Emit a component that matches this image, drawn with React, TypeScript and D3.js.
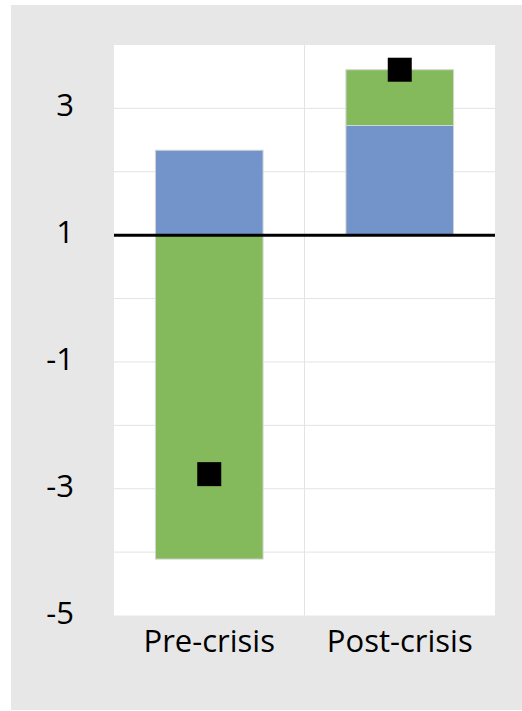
import React from "react";
import * as d3 from "d3";

// Categories and stacked components (drawn from a baseline of 1)
const categories = ["Pre-crisis", "Post-crisis"];
const blueValues = [1.34, 1.73];
const greenValues = [-5.11, 0.88];
const totalValues = [-3.77, 2.61];
const baselineValue = 1;
const yTickLabels = [-5, -3, -1, 1, 3];
const yGridValues = [-4, -3, -2, -1, 0, 1, 2, 3];

const W = 522;
const H = 711;
const plot = { left: 114, right: 495, top: 45, bottom: 615.5 };

const BLUE = "#7294cb";
const GREEN = "#84ba5c";
const FONT = "'Open Sans', 'Noto Sans', sans-serif";

export default function App() {
  const x = d3
    .scaleBand<string>()
    .domain(categories)
    .range([plot.left, plot.right])
    .padding(0);
  const y = d3.scaleLinear().domain([-5, 4]).range([plot.bottom, plot.top]);
  const barW = x.step() * 0.565;
  const markerSize = 24;

  return (
    <svg
      width={W}
      height={H}
      style={{ position: "absolute", left: 0, top: 0, display: "block" }}
    >
      <rect x={0} y={0} width={W} height={H} fill="#ffffff" />
      <rect x={11} y={5} width={W - 11} height={705} fill="#e7e7e7" />
      <rect
        x={plot.left}
        y={plot.top}
        width={plot.right - plot.left}
        height={plot.bottom - plot.top}
        fill="#ffffff"
      />
      {/* horizontal gridlines */}
      {yGridValues.map((v) => (
        <line
          key={"g" + v}
          x1={plot.left}
          x2={plot.right}
          y1={y(v)}
          y2={y(v)}
          stroke="#e3e3e3"
          strokeWidth={1}
        />
      ))}
      {/* vertical gridline between categories */}
      <line
        x1={(x(categories[1]) as number)}
        x2={(x(categories[1]) as number)}
        y1={plot.top}
        y2={plot.bottom}
        stroke="#e3e3e3"
        strokeWidth={1}
      />
      {/* stacked bars */}
      {categories.map((c, i) => {
        const cx = (x(c) as number) + x.bandwidth() / 2;
        const segs: { from: number; to: number; color: string }[] = [];
        let posBase = baselineValue;
        let negBase = baselineValue;
        [
          { v: blueValues[i], color: BLUE },
          { v: greenValues[i], color: GREEN },
        ].forEach(({ v, color }) => {
          if (v >= 0) {
            segs.push({ from: posBase, to: posBase + v, color });
            posBase += v;
          } else {
            segs.push({ from: negBase, to: negBase + v, color });
            negBase += v;
          }
        });
        return (
          <g key={c}>
            {segs.map((s, j) => {
              const y0 = y(Math.max(s.from, s.to));
              const y1 = y(Math.min(s.from, s.to));
              return (
                <rect
                  key={j}
                  x={cx - barW / 2}
                  y={y0}
                  width={barW}
                  height={y1 - y0}
                  fill={s.color}
                  stroke="#d4d4d4"
                  strokeWidth={1}
                />
              );
            })}
          </g>
        );
      })}
      {/* baseline */}
      <line
        x1={plot.left}
        x2={plot.right}
        y1={y(baselineValue)}
        y2={y(baselineValue)}
        stroke="#000000"
        strokeWidth={3}
      />
      {/* total markers */}
      {categories.map((c, i) => {
        const cx = (x(c) as number) + x.bandwidth() / 2;
        const cy = y(baselineValue + totalValues[i]);
        return (
          <rect
            key={"m" + c}
            x={cx - markerSize / 2}
            y={cy - markerSize / 2}
            width={markerSize}
            height={markerSize}
            fill="#000000"
          />
        );
      })}
      {/* y tick labels */}
      {yTickLabels.map((v) => (
        <text
          key={"t" + v}
          x={74}
          y={y(v) + 8}
          textAnchor="end"
          fontFamily={FONT}
          fontSize={31}
          fill="#000000"
        >
          {v}
        </text>
      ))}
      {/* category labels */}
      {categories.map((c) => (
        <text
          key={"c" + c}
          x={(x(c) as number) + x.bandwidth() / 2}
          y={652}
          textAnchor="middle"
          fontFamily={FONT}
          fontSize={31}
          fill="#000000"
        >
          {c}
        </text>
      ))}
    </svg>
  );
}
